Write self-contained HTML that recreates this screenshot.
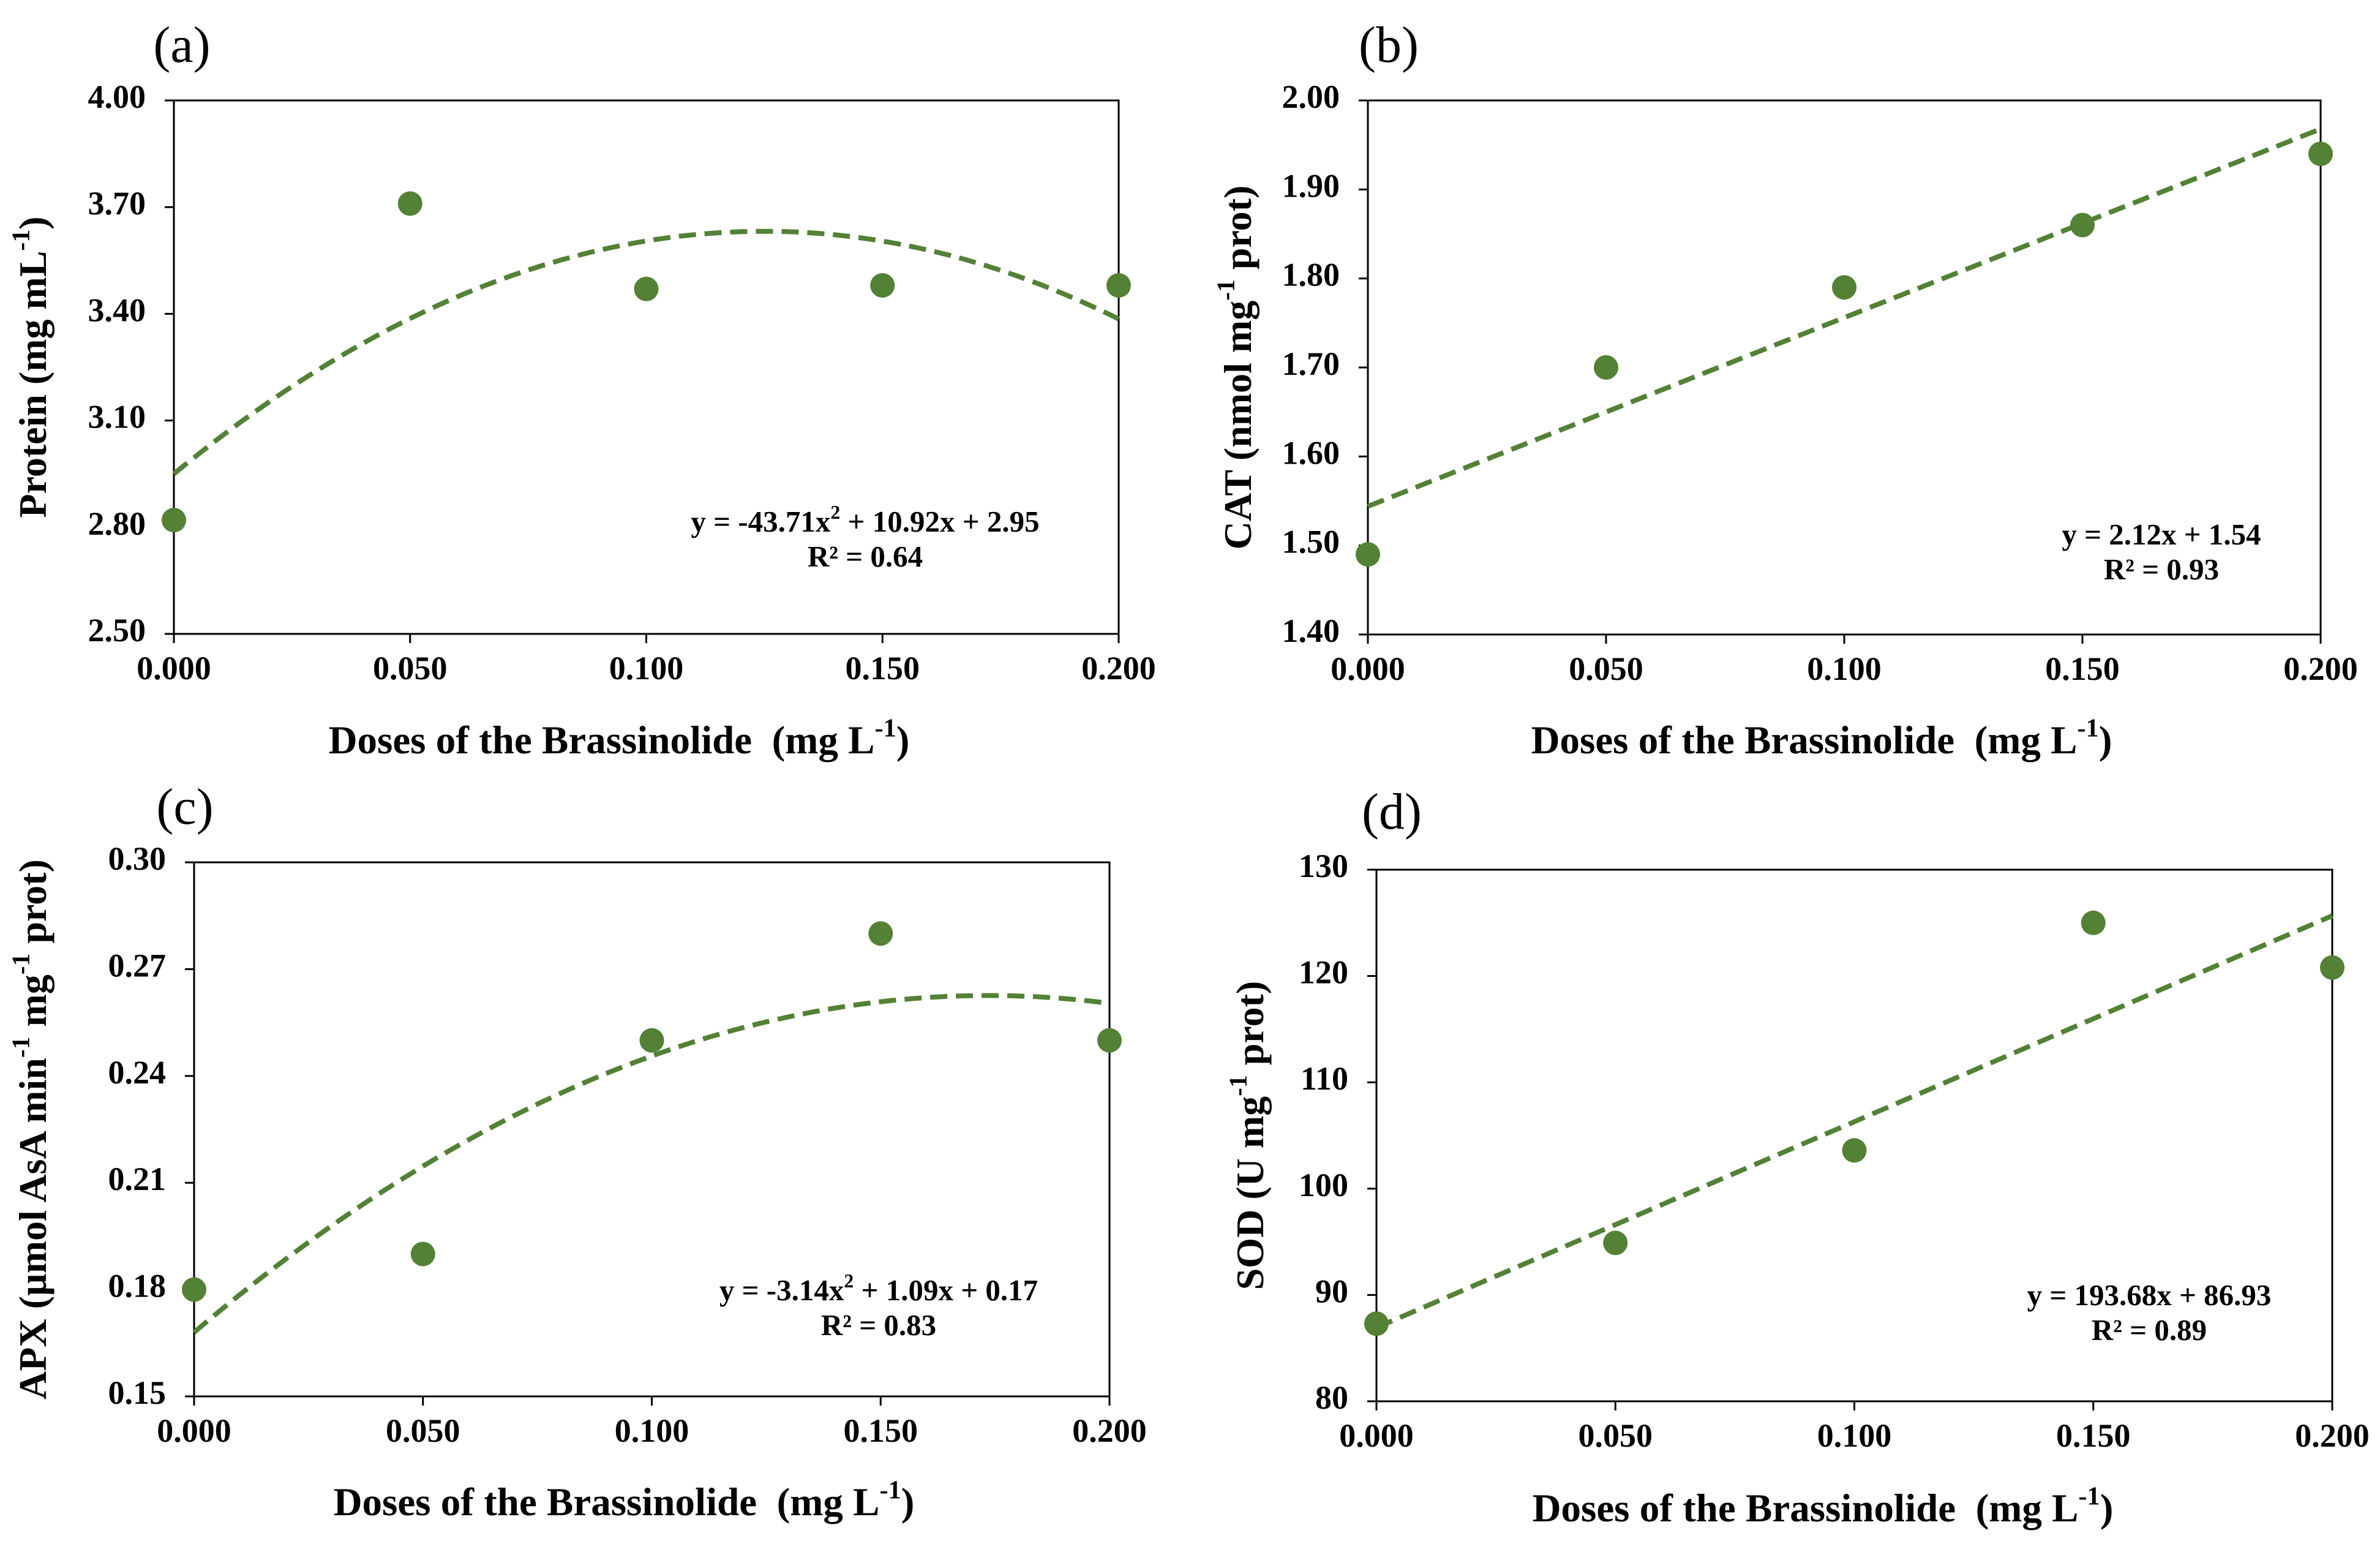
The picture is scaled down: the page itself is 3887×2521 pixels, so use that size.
<!DOCTYPE html>
<html><head><meta charset="utf-8">
<style>
html,body{margin:0;padding:0;background:#fff;}
svg{display:block;font-family:"Liberation Serif",serif;}
</style></head>
<body>
<svg id="fig" width="3887" height="2521" viewBox="0 0 3887 2521" xmlns="http://www.w3.org/2000/svg"></svg>
<script>
// ---- Panel (a) Protein ----
const aX = [0, 0.05, 0.10, 0.15, 0.20];
const aY = [2.82, 3.71, 3.47, 3.48, 3.48];
const aCoef = [-43.71, 10.92, 2.95];
const aYTicks = ["2.50","2.80","3.10","3.40","3.70","4.00"];
// ---- Panel (b) CAT ----
const bX = [0, 0.05, 0.10, 0.15, 0.20];
const bY = [1.49, 1.70, 1.79, 1.86, 1.94];
const bCoef = [0, 2.12, 1.544];
const bYTicks = ["1.40","1.50","1.60","1.70","1.80","1.90","2.00"];
// ---- Panel (c) APX ----
const cX = [0, 0.05, 0.10, 0.15, 0.20];
const cY = [0.18, 0.19, 0.25, 0.28, 0.25];
const cCoef = [-3.14, 1.09, 0.168];
const cYTicks = ["0.15","0.18","0.21","0.24","0.27","0.30"];
// ---- Panel (d) SOD ----
const dX = [0, 0.05, 0.10, 0.15, 0.20];
const dY = [87.3, 94.9, 103.6, 125.0, 120.8];
const dCoef = [0, 193.68, 86.93];
const dYTicks = ["80","90","100","110","120","130"];
const xTicks = ["0.000","0.050","0.100","0.150","0.200"];

const NS = "http://www.w3.org/2000/svg";
const svg = document.getElementById('fig');
const GREEN = "#538135";
function mk(tag, attrs, parent){
  const e = document.createElementNS(NS, tag);
  for (const k in attrs) e.setAttribute(k, attrs[k]);
  (parent||svg).appendChild(e);
  return e;
}
function txt(parent, x, y, parts, size, weight, anchor, rot){
  const t = mk('text', {x:x, y:y, 'font-size':size, 'font-weight':weight, 'text-anchor':anchor||'middle', 'dominant-baseline':'middle', fill:'#000'}, parent);
  if (rot) t.setAttribute('transform', 'rotate(' + rot + ' ' + x + ' ' + y + ')');
  parts.forEach(p => {
    const s = document.createElementNS(NS, 'tspan');
    s.textContent = p[0];
    if (p[1]) { s.setAttribute('font-size', size*0.65); s.setAttribute('dy', -size*0.35); }
    else if (p[2]) { s.setAttribute('dy', size*0.35); }
    t.appendChild(s);
  });
  return t;
}

function panel(cfg){
  const g = mk('g', {});
  
  
  const L=cfg.L, R=cfg.R, T=cfg.T, B=cfg.B;
  const ymin = parseFloat(cfg.yTicks[0]), ymax = parseFloat(cfg.yTicks[cfg.yTicks.length-1]);
  const sx = v => L + (v - 0) / 0.2 * (R - L);
  const sy = v => B - (v - ymin) / (ymax - ymin) * (B - T);
  const fr = mk('rect', {x:L, y:T, width:R-L, height:B-T, fill:'none', stroke:'#000', 'stroke-width':3}, g);
  
  
  cfg.yTicks.forEach(t => {
    const y = sy(parseFloat(t));
    mk('line', {x1:L-15, x2:L, y1:y, y2:y, stroke:'#000', 'stroke-width':3}, g);
    const l = txt(g, L-46, y, [[t]], 54, 'bold', 'end');
    
    
  });
  xTicks.forEach(t => {
    const x = sx(parseFloat(t));
    mk('line', {x1:x, x2:x, y1:B, y2:B+15, stroke:'#000', 'stroke-width':3}, g);
    const l = txt(g, x, B+62, [[t]], 54, 'bold', 'middle');
    
    
  });
  let d = '';
  for (let i = 0; i <= 100; i++) {
    const xv = 0.2 * i / 100;
    const yv = cfg.coef[0]*xv*xv + cfg.coef[1]*xv + cfg.coef[2];
    d += (i ? 'L' : 'M') + sx(xv).toFixed(1) + ' ' + sy(yv).toFixed(1);
  }
  const tl = mk('path', {d:d, fill:'none', stroke:GREEN, 'stroke-width':8, 'stroke-dasharray':'28 14'}, g);
  
  
  cfg.xs.forEach((xv, i) => {
    const c = mk('circle', {cx:sx(xv), cy:sy(cfg.ys[i]), r:20, fill:GREEN}, g);
    
    
  });
  const e1 = txt(g, cfg.eqX, cfg.eqY, cfg.eq, 49, 'bold', 'middle');
  
  
  const e2 = txt(g, cfg.eqX, cfg.eqY + 57, [["R² = " + cfg.r2]], 49, 'bold', 'middle');
  
  
  const xt = txt(g, cfg.xtX, cfg.xtY, [["Doses of the Brassinolide\u00a0 (mg L"],["-1",1],[")",0,1]], 65, 'bold', 'middle');
  
  
  const yt = txt(g, cfg.ytX, (T+B)/2, cfg.ytitle, 64, 'bold', 'middle', -90);
  
  
  const pl = txt(g, cfg.lbX, cfg.lbY, [[cfg.label]], 84, 'normal', 'middle');
  
  
}

panel({name:'panel-a-protein', L:284, R:1827, T:164, B:1035, xs:aX, ys:aY, coef:aCoef, yTicks:aYTicks,
  eq:[["y = -43.71x"],["2",1],[" + 10.92x + 2.95",0,1]], r2:"0.64", eqX:1413, eqY:857,
  xtX:1011, xtY:1215, ytX:60, ytitle:[["Protein (mg mL"],["-1",1],[")",0,1]], label:"(a)", lbX:297, lbY:82});
panel({name:'panel-b-cat', L:2234, R:3790, T:164, B:1036, xs:bX, ys:bY, coef:bCoef, yTicks:bYTicks,
  eq:[["y = 2.12x + 1.54"]], r2:"0.93", eqX:3530, eqY:878,
  xtX:2975, xtY:1215, ytX:2028, ytitle:[["CAT (nmol mg"],["-1",1],[" prot)",0,1]], label:"(b)", lbX:2268, lbY:82});
panel({name:'panel-c-apx', L:317, R:1812, T:1408, B:2280, xs:cX, ys:cY, coef:cCoef, yTicks:cYTicks,
  eq:[["y = -3.14x"],["2",1],[" + 1.09x + 0.17",0,1]], r2:"0.83", eqX:1435, eqY:2112,
  xtX:1019, xtY:2459, ytX:60, ytitle:[["APX (µmol AsA min"],["-1",1],[" mg",0,1],["-1",1],[" prot)",0,1]], label:"(c)", lbX:302, lbY:1326});
panel({name:'panel-d-sod', L:2248, R:3809, T:1420, B:2288, xs:dX, ys:dY, coef:dCoef, yTicks:dYTicks,
  eq:[["y = 193.68x + 86.93"]], r2:"0.89", eqX:3510, eqY:2120,
  xtX:2977, xtY:2469, ytX:2048, ytitle:[["SOD (U mg"],["-1",1],[" prot)",0,1]], label:"(d)", lbX:2273, lbY:1334});
</script>
</body></html>
